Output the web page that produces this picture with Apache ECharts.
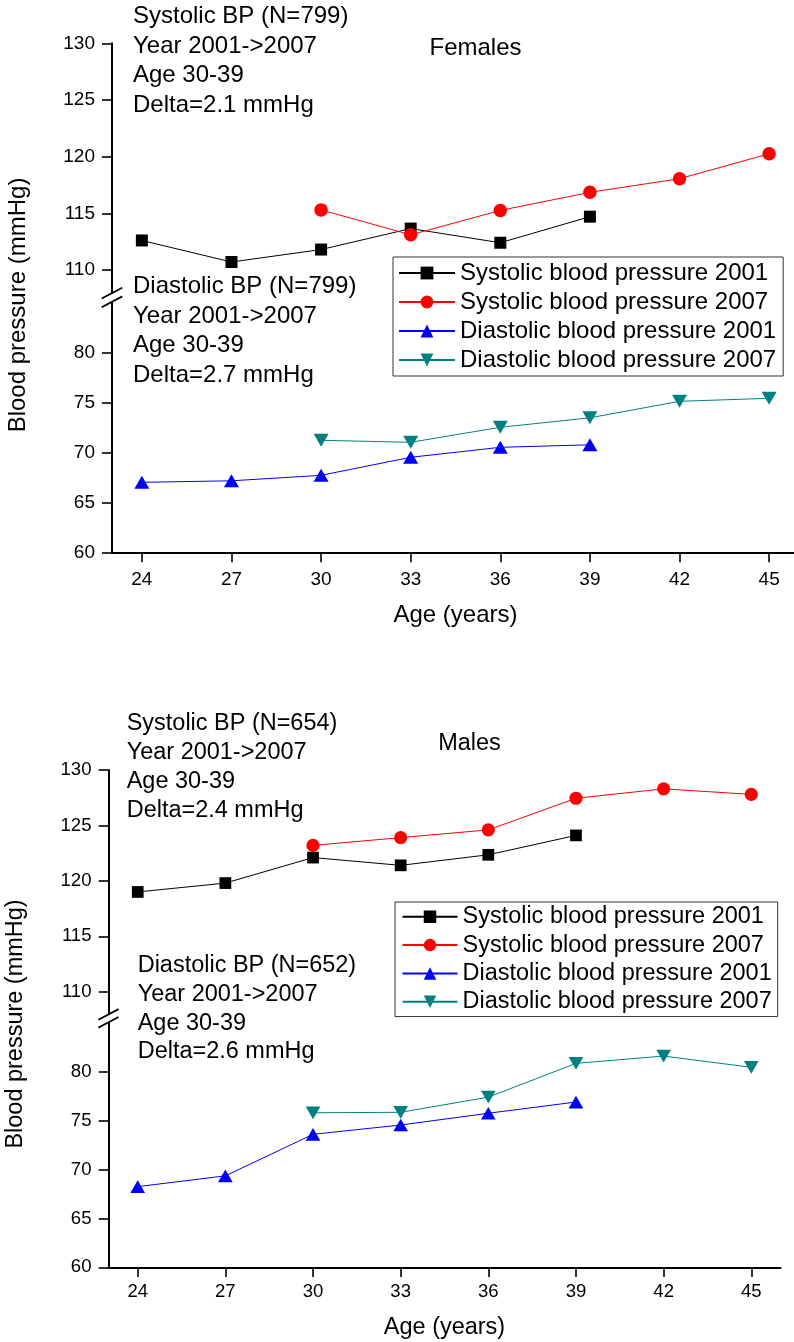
<!DOCTYPE html>
<html>
<head>
<meta charset="utf-8">
<script src="https://cdn.jsdelivr.net/npm/echarts@6/dist/echarts.min.js"></script>
<style>
html,body{margin:0;padding:0;background:#fff;}
#top{position:absolute;left:0;top:0;width:794px;height:671px;}
#bot{position:absolute;left:0;top:671px;width:794px;height:671px;}
</style>
</head>
<body>
<div id="top"></div>
<div id="bot"></div>
<script>
// ---------- data ----------
const ages = [24, 27, 30, 33, 36, 39, 42, 45];
const xTicks = [24, 27, 30, 33, 36, 39, 42, 45];
const upperTicks = [110, 115, 120, 125, 130];
const lowerTicks = [60, 65, 70, 75, 80];
const seriesNames = [
  'Systolic blood pressure 2001',
  'Systolic blood pressure 2007',
  'Diastolic blood pressure 2001',
  'Diastolic blood pressure 2007'
];
// Females
const fSys2001 = [112.6, 110.7, 111.8, 113.65, 112.4, 114.7, null, null];
const fSys2007 = [null, null, 115.3, 113.1, 115.25, 116.85, 118.05, 120.25];
const fDia2001 = [67.0, 67.15, 67.7, 69.5, 70.5, 70.75, null, null];
const fDia2007 = [null, null, 71.2, 71.0, 72.5, 73.45, 75.1, 75.4];
// Males
const mSys2001 = [119.0, 119.8, 122.1, 121.4, 122.35, 124.1, null, null];
const mSys2007 = [null, null, 123.2, 123.9, 124.6, 127.45, 128.3, 127.8];
const mDia2001 = [68.25, 69.35, 73.6, 74.55, 75.75, 76.9, null, null];
const mDia2007 = [null, null, 75.8, 75.85, 77.4, 80.85, 81.6, 80.45];

const femaleNotes = {
  sys: ['Systolic BP (N=799)', 'Year 2001->2007', 'Age 30-39', 'Delta=2.1 mmHg'],
  dia: ['Diastolic BP (N=799)', 'Year 2001->2007', 'Age 30-39', 'Delta=2.7 mmHg']
};
const maleNotes = {
  sys: ['Systolic BP (N=654)', 'Year 2001->2007', 'Age 30-39', 'Delta=2.4 mmHg'],
  dia: ['Diastolic BP (N=652)', 'Year 2001->2007', 'Age 30-39', 'Delta=2.6 mmHg']
};

const FONT = '"Liberation Sans", Arial, sans-serif';

function pairs(arr) {
  return ages.map((a, i) => [a, arr[i]]).filter(d => d[1] != null);
}

function textEl(str, x, y, size, align) {
  return {
    type: 'text', x: x, y: y, silent: true,
    style: {
      text: str, fill: '#000', fontSize: size, fontFamily: FONT,
      align: align || 'left', verticalAlign: 'middle',
      textAlign: align || 'left', textVerticalAlign: 'middle'
    }
  };
}

function buildPanel(el, P, data, notes) {
  const chart = echarts.init(el, null, { renderer: 'canvas' });
  const s = P.s;
  const axisLine = { show: true, onZero: false, lineStyle: { color: '#000', width: 2 } };
  const tick = vals => ({ show: true, inside: false, length: 10 * s, customValues: vals,
                          lineStyle: { color: '#000', width: 1.6 } });
  const label = (vals, m) => ({ show: true, customValues: vals, margin: m, color: '#000',
                                fontSize: 19 * s, fontFamily: FONT });

  const graphics = [];
  // title
  graphics.push(textEl(P.title, P.titleX, P.titleY, 24 * s, 'center'));
  // notes
  notes.sys.forEach((t, i) => graphics.push(textEl(t, P.sysX, P.sysY + i * P.lh, 24 * s)));
  notes.dia.forEach((t, i) => graphics.push(textEl(t, P.diaX, P.diaY + i * P.lh, 24 * s)));
  // axis names
  graphics.push(textEl('Age (years)', P.left + P.width / 2, P.xNameY, 24 * s, 'center'));
  const yn = textEl('Blood pressure (mmHg)', P.yNameX, P.yNameY, 24 * s, 'center');
  yn.rotation = Math.PI / 2;
  graphics.push(yn);
  // axis break marks
  const upBottom = P.upTop + P.upH;
  const dx = 10.3 * s, dy = 5.4 * s;
  [upBottom + 0.5, P.loTop - 0.5].forEach(cy => {
    graphics.push({
      type: 'line', silent: true,
      shape: { x1: P.left - dx, y1: cy + dy, x2: P.left + dx, y2: cy - dy },
      style: { stroke: '#000', lineWidth: 1.8 }
    });
  });

  const option = {
    animation: false,
    backgroundColor: '#fff',
    textStyle: { fontFamily: FONT },
    grid: [
      { left: P.left, top: P.upTop, width: P.width, height: P.upH, containLabel: false, outerBoundsMode: 'none' },
      { left: P.left, top: P.loTop, width: P.width, height: P.loH, containLabel: false, outerBoundsMode: 'none' }
    ],
    xAxis: [
      { type: 'value', gridIndex: 0, min: 23, max: 46, show: false, splitLine: { show: false } },
      { type: 'value', gridIndex: 1, min: 23, max: 46, axisLine: axisLine,
        axisTick: tick(xTicks), axisLabel: label(xTicks, P.xMargin), splitLine: { show: false } }
    ],
    yAxis: [
      { type: 'value', gridIndex: 0, min: 108, max: 130, axisLine: axisLine,
        axisTick: tick(upperTicks), axisLabel: label(upperTicks, 17), splitLine: { show: false } },
      { type: 'value', gridIndex: 1, min: 60, max: 85, axisLine: axisLine,
        axisTick: tick(lowerTicks), axisLabel: label(lowerTicks, 17), splitLine: { show: false } }
    ],
    legend: {
      orient: 'vertical', left: P.legLeft, top: P.legTop, padding: P.legPad,
      itemGap: 5 * s, itemWidth: P.legItemW, itemHeight: 16 * s,
      backgroundColor: '#fff', borderColor: '#333', borderWidth: 1, borderRadius: 0,
      selectedMode: false,
      textStyle: { color: '#000', fontSize: 24 * s, lineHeight: 24 * s, fontFamily: FONT },
      data: seriesNames
    },
    series: [
      { name: seriesNames[0], type: 'line', xAxisIndex: 0, yAxisIndex: 0, data: pairs(data[0]),
        symbol: 'rect', symbolSize: 12 * s, color: '#000',
        lineStyle: { color: '#000', width: 1 }, itemStyle: { color: '#000' } },
      { name: seriesNames[1], type: 'line', xAxisIndex: 0, yAxisIndex: 0, data: pairs(data[1]),
        symbol: 'circle', symbolSize: 13.5 * s, color: '#ff0000',
        lineStyle: { color: '#ff0000', width: 1 }, itemStyle: { color: '#ff0000' } },
      { name: seriesNames[2], type: 'line', xAxisIndex: 1, yAxisIndex: 1, data: pairs(data[2]),
        symbol: 'triangle', symbolSize: [15 * s, 13 * s], color: '#0000ff',
        lineStyle: { color: '#0000ff', width: 1 }, itemStyle: { color: '#0000ff' } },
      { name: seriesNames[3], type: 'line', xAxisIndex: 1, yAxisIndex: 1, data: pairs(data[3]),
        symbol: 'path://M0,0L10,0L5,9Z', symbolSize: [15 * s, 13 * s], color: '#008080',
        lineStyle: { color: '#008080', width: 1 }, itemStyle: { color: '#008080' } }
    ],
    graphic: { elements: graphics }
  };
  chart.setOption(option);
  return chart;
}

buildPanel(document.getElementById('top'), {
  s: 1, left: 112, width: 687, upTop: 43.3, upH: 249.3, loTop: 302.3, loH: 250,
  xMargin: 17.5, title: 'Females', titleX: 475.5, titleY: 48,
  sysX: 133, sysY: 16.7, diaX: 133, diaY: 286.7, lh: 29.4,
  xNameY: 615, yNameX: 18, yNameY: 305,
  legLeft: 393, legTop: 257, legPad: [4, 7, 4, 5], legItemW: 56
}, [fSys2001, fSys2007, fDia2001, fDia2007], femaleNotes);

buildPanel(document.getElementById('bot'), {
  s: 0.978, left: 108.5, width: 672, upTop: 99, upH: 243.9, loTop: 351.8, loH: 244.5,
  xMargin: 15.5, title: 'Males', titleX: 469.5, titleY: 72.5,
  sysX: 126.7, sysY: 52.8, diaX: 137.7, diaY: 294.3, lh: 28.9,
  xNameY: 657, yNameX: 16, yNameY: 353,
  legLeft: 395, legTop: 231, legPad: [3, 6, 3, 6.5], legItemW: 55
}, [mSys2001, mSys2007, mDia2001, mDia2007], maleNotes);
</script>
</body>
</html>
